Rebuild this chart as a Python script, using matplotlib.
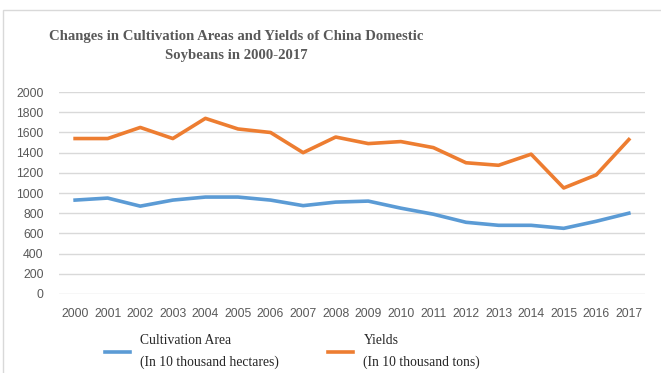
import matplotlib
matplotlib.use('Agg')
from matplotlib import pyplot as plt
from matplotlib.patches import Rectangle

years = [str(y) for y in range(2000, 2018)]
area = [930, 950, 870, 930, 960, 960, 930, 875, 910, 920,
        850, 790, 710, 680, 680, 650, 720, 800]
yields = [1540, 1540, 1650, 1540, 1740, 1635, 1600, 1400, 1555, 1490,
          1510, 1450, 1300, 1275, 1385, 1050, 1180, 1530]

fig = plt.figure(figsize=(6.61, 3.73), dpi=100)
ax = fig.add_axes([0.089, 0.212, 0.887, 0.541])

x = list(range(len(years)))
ax.plot(x, area, color='#5B9BD5', lw=2.6, solid_joinstyle='round',
        label='Cultivation Area\n(In 10 thousand hectares)')
ax.plot(x, yields, color='#ED7D31', lw=2.6, solid_joinstyle='round',
        label='Yields\n(In 10 thousand tons)')

ax.set_xlim(-0.5, 17.5)
ax.set_ylim(0, 2000)
ax.set_yticks(range(0, 2001, 200))
ax.set_xticks(x)
ax.set_xticklabels(years)
ax.grid(axis='y', color='#D9D9D9', lw=1)
ax.set_axisbelow(True)
for s in ax.spines.values():
    s.set_visible(False)
ax.tick_params(length=0, labelsize=8.8, labelcolor='#595959')
ax.tick_params(axis='y', pad=11)
ax.tick_params(axis='x', pad=10)
for lab in ax.get_xticklabels() + ax.get_yticklabels():
    lab.set_family('Liberation Sans')

fig.text(0.357, 0.876, 'Changes in Cultivation Areas and Yields of China Domestic\nSoybeans in 2000-2017',
         ha='center', va='center', family='Liberation Serif', weight='bold',
         fontsize=10.6, color='#595959', linespacing=1.6)

fig.legend(loc='center left', bbox_to_anchor=(0.14, 0.057), ncol=2, frameon=False,
           prop={'family': 'Liberation Serif', 'size': 9.8}, labelspacing=0.3,
           handlelength=1.85, handletextpad=0.75, columnspacing=3.6)
for t in fig.legends[0].get_texts():
    t.set_linespacing(1.8)
    t.set_color('#262626')

fig.patches.append(Rectangle((0.005, -0.01), 1.0, 0.983, transform=fig.transFigure,
                             fill=False, edgecolor='#D9D9D9', lw=1))

fig.savefig('out.png', dpi=100)
